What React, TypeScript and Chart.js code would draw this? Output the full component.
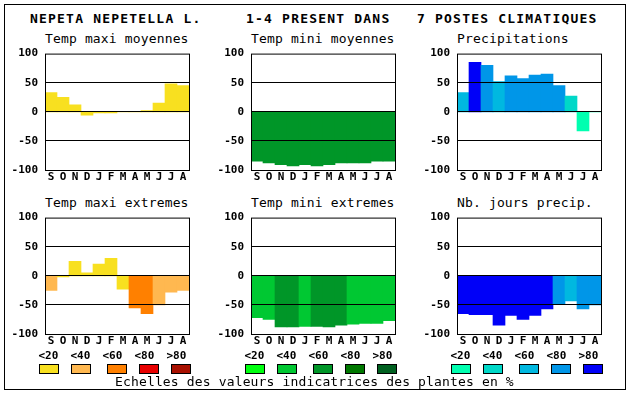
import React, { useEffect, useRef } from 'react';
import { Chart, registerables } from 'chart.js';
Chart.register(...registerables);

const FONT = '"DejaVu Sans Mono", monospace';

const months = ['S', 'O', 'N', 'D', 'J', 'F', 'M', 'A', 'M', 'J', 'J', 'A'];
const gridValues = [50, 0, -50];
const classLabels = ['<20', '<40', '<60', '<80', '>80'];

const warmColors = ['#f8e020', '#ffb850', '#ff8000', '#e80000', '#a81000'];
const greenColors = ['#00ff10', '#00c832', '#009628', '#007800', '#006020'];
const blueColors = ['#00ffb0', '#00d8c8', '#00b8e0', '#0096e8', '#0000f8'];

// values (%) and indicator class index (0..4) per month, Sep..Aug
const tmaxMoyValues = [33, 25, 12, -6, -2, -2, 0, 0, 2, 15, 48, 45];
const tmaxMoyClasses = [0, 0, 0, 0, 0, 0, 0, 0, 0, 0, 0, 0];
const tminMoyValues = [-85, -88, -91, -93, -91, -93, -91, -88, -88, -88, -85, -85];
const tminMoyClasses = [2, 2, 2, 2, 2, 2, 2, 2, 2, 2, 2, 2];
const precipValues = [33, 85, 80, 52, 62, 57, 63, 65, 45, 27, -33, 0];
const precipClasses = [2, 4, 3, 2, 3, 3, 3, 3, 3, 1, 0, 0];
const tmaxExtValues = [-25, -2, 25, 5, 20, 30, -23, -55, -65, -50, -28, -25];
const tmaxExtClasses = [1, 0, 0, 0, 0, 0, 0, 2, 2, 1, 1, 1];
const tminExtValues = [-72, -75, -88, -88, -87, -87, -88, -85, -83, -82, -82, -77];
const tminExtClasses = [1, 1, 2, 2, 1, 2, 2, 2, 1, 1, 1, 1];
const nbJoursValues = [-65, -67, -67, -85, -68, -75, -68, -57, -48, -43, -57, -50];
const nbJoursClasses = [4, 4, 4, 4, 4, 4, 4, 4, 3, 2, 3, 3];

const titleParts = ['NEPETA NEPETELLA L.', '1-4 PRESENT DANS', '7 POSTES CLIMATIQUES'];
const footer = 'Echelles des valeurs indicatrices des plantes en %';

const panels = [
  { title: 'Temp maxi moyennes', values: tmaxMoyValues, classes: tmaxMoyClasses, palette: warmColors, left: 45, top: 50 },
  { title: 'Temp mini moyennes', values: tminMoyValues, classes: tminMoyClasses, palette: greenColors, left: 251, top: 50 },
  { title: 'Precipitations', values: precipValues, classes: precipClasses, palette: blueColors, left: 457, top: 50 },
  { title: 'Temp maxi extremes', values: tmaxExtValues, classes: tmaxExtClasses, palette: warmColors, left: 45, top: 214 },
  { title: 'Temp mini extremes', values: tminExtValues, classes: tminExtClasses, palette: greenColors, left: 251, top: 214 },
  { title: 'Nb. jours precip.', values: nbJoursValues, classes: nbJoursClasses, palette: blueColors, left: 457, top: 214 },
];

const legendCols = [
  { palette: warmColors, left: 45 },
  { palette: greenColors, left: 251 },
  { palette: blueColors, left: 457 },
];
const labelOffsets = [-6, 26, 58, 90, 122];
const swatchOffsets = [-6, 26, 62, 94, 126];

const framePlugin = {
  id: 'frameLines',
  afterDatasetsDraw(chart: any) {
    const { ctx, chartArea: a, scales } = chart;
    const y = scales.y;
    ctx.save();
    ctx.strokeStyle = '#000';
    ctx.lineWidth = 1;
    ctx.beginPath();
    for (const v of gridValues) {
      const py = Math.floor(y.getPixelForValue(v)) + 0.5;
      ctx.moveTo(a.left, py);
      ctx.lineTo(a.right + 1, py);
    }
    ctx.stroke();
    ctx.strokeRect(a.left + 0.5, a.top + 0.5, a.right - a.left, a.bottom - a.top);
    ctx.restore();
  },
};

const CW = 194;
const CH = 150;

function Panel({ p }: { p: any }) {
  const ref = useRef<HTMLCanvasElement>(null);
  useEffect(() => {
    const tickFont = { family: FONT, size: 11, weight: 'bold' as const };
    const chart = new Chart(ref.current as HTMLCanvasElement, {
      type: 'bar',
      data: {
        labels: months,
        datasets: [
          {
            data: p.values,
            backgroundColor: p.classes.map((c: number) => p.palette[c]),
            borderWidth: 0,
            barPercentage: 1,
            categoryPercentage: 1,
          },
        ],
      },
      options: {
        responsive: false,
        animation: false,
        devicePixelRatio: 1,
        layout: { padding: { top: 10, right: 5, left: 0, bottom: 0 } },
        plugins: { legend: { display: false }, tooltip: { enabled: false }, title: { display: false } },
        scales: {
          x: {
            grid: { display: false, drawTicks: false },
            border: { display: false },
            ticks: { font: tickFont, color: '#000', padding: 1, autoSkip: false, maxRotation: 0 },
            afterFit: (s: any) => { s.height = 20; },
          },
          y: {
            min: -100,
            max: 100,
            grid: { display: false, drawTicks: false },
            border: { display: false },
            ticks: { stepSize: 50, font: tickFont, color: '#000', padding: 7 },
            afterFit: (s: any) => { s.width = 45; },
          },
        },
      },
      plugins: [framePlugin],
    });
    return () => chart.destroy();
  }, []);
  return (
    <canvas
      ref={ref}
      width={CW}
      height={CH}
      style={{ position: 'absolute', left: p.left - 45, top: p.top - 10, width: CW, height: CH }}
    />
  );
}

const txt = (extra: any) => ({
  position: 'absolute' as const,
  fontFamily: FONT,
  whiteSpace: 'pre' as const,
  color: '#000',
  margin: 0,
  ...extra,
});

export default function App() {
  return (
    <div style={{ position: 'absolute', left: 0, top: 0, width: 630, height: 394, background: '#fff', overflow: 'hidden' }}>
      <div style={{ position: 'absolute', left: 4, top: 4, width: 622, height: 386, border: '1px solid #000', boxSizing: 'border-box' }} />
      {[30, 246, 417].map((x, i) => (
        <div key={'t' + i} style={txt({ left: x, top: 12, fontSize: 13, lineHeight: '13px', fontWeight: 'bold', letterSpacing: '1.2px' })}>
          {titleParts[i]}
        </div>
      ))}
      {panels.map((p, i) => (
        <div key={'st' + i} style={txt({ left: p.left, top: p.top - 18, fontSize: 13, lineHeight: '13px', letterSpacing: '0.15px' })}>
          {p.title}
        </div>
      ))}
      {panels.map((p, i) => (
        <Panel key={'p' + i} p={p} />
      ))}
      {legendCols.map((col, ci) => (
        <React.Fragment key={'lc' + ci}>
          {classLabels.map((lab, k) => (
            <div key={'ll' + k} style={txt({ left: col.left + labelOffsets[k] - 0.5, top: 350, fontSize: 11, lineHeight: '11px', fontWeight: 'bold' })}>
              {lab}
            </div>
          ))}
          {col.palette.map((c, k) => (
            <div
              key={'sw' + k}
              style={{ position: 'absolute', left: col.left + swatchOffsets[k], top: 364, width: 20, height: 10, background: c, border: '1px solid #000', boxSizing: 'border-box' }}
            />
          ))}
        </React.Fragment>
      ))}
      <div style={txt({ left: 115, top: 375, fontSize: 13, lineHeight: '13px', letterSpacing: '0.15px' })}>{footer}</div>
    </div>
  );
}
